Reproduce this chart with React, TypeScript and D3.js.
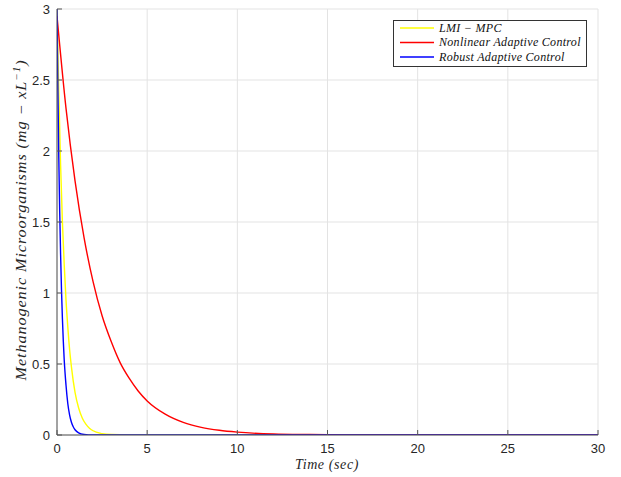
import React, { useEffect, useRef } from "react";
import * as d3 from "d3";

// values
const lmiTime = [0, 0.1, 0.2, 0.3, 0.4, 0.5, 0.6, 0.7, 0.8, 1.0, 1.2, 1.4, 1.6, 1.8, 2.0, 2.5, 3, 4, 30];
const lmiValue = [3.0, 2.4, 1.9, 1.5, 1.2, 0.95, 0.76, 0.6, 0.48, 0.3, 0.19, 0.12, 0.076, 0.048, 0.03, 0.01, 0.003, 0, 0];

const nacTime = [0, 0.5, 1, 1.5, 2, 2.5, 3, 3.5, 4, 4.5, 5, 6, 7, 8, 9, 10, 12, 14, 16, 20, 30];
const nacValue = [2.95, 2.3, 1.79, 1.39, 1.08, 0.84, 0.66, 0.51, 0.4, 0.31, 0.24, 0.147, 0.089, 0.054, 0.033, 0.02, 0.007, 0.003, 0.001, 0, 0];

const racTime = [0, 0.05, 0.1, 0.15, 0.2, 0.25, 0.3, 0.35, 0.4, 0.5, 0.6, 0.7, 0.8, 0.9, 1.0, 1.2, 1.5, 2, 30];
const racValue = [3.0, 2.42, 1.95, 1.57, 1.27, 1.02, 0.82, 0.66, 0.53, 0.35, 0.22, 0.14, 0.09, 0.058, 0.037, 0.015, 0.004, 0, 0];

const xTicks = [0, 5, 10, 15, 20, 25, 30];
const yTicks = [0, 0.5, 1, 1.5, 2, 2.5, 3];

const series = [
  { name: "LMI \u2212 MPC", color: "#ffff00", t: lmiTime, v: lmiValue },
  { name: "Nonlinear Adaptive Control", color: "#ff0000", t: nacTime, v: nacValue },
  { name: "Robust Adaptive Control", color: "#0000ff", t: racTime, v: racValue },
];

const serif = "'Liberation Serif', 'Times New Roman', serif";
const sans = "'Liberation Sans', Arial, sans-serif";

const App = () => {
  const svgRef = useRef<SVGSVGElement>(null);

  useEffect(() => {
    const svg = d3.select(svgRef.current);
    svg.selectAll("*").remove();

    const left = 57, right = 598, top = 9, bottom = 435;
    const x = d3.scaleLinear().domain([0, 30]).range([left, right]);
    const y = d3.scaleLinear().domain([0, 3]).range([bottom, top]);

    svg.append("rect").attr("width", 621).attr("height", 477).attr("fill", "#fff");

    // grid
    const grid = svg.append("g").attr("stroke", "#e3e3e3").attr("stroke-width", 1);
    xTicks.forEach((t) => {
      grid.append("line").attr("x1", x(t)).attr("x2", x(t)).attr("y1", top).attr("y2", bottom);
    });
    yTicks.forEach((t) => {
      grid.append("line").attr("x1", left).attr("x2", right).attr("y1", y(t)).attr("y2", y(t));
    });

    // curves
    const clip = svg.append("clipPath").attr("id", "plotclip");
    clip.append("rect").attr("x", left).attr("y", top - 2).attr("width", right - left).attr("height", bottom - top + 2);

    const plot = svg.append("g").attr("clip-path", "url(#plotclip)");
    series.forEach((s) => {
      const pts: [number, number][] = s.t.map((t, i) => [t, s.v[i]]);
      const line = d3
        .line<[number, number]>()
        .x((d) => x(d[0]))
        .y((d) => y(d[1]))
        .curve(d3.curveMonotoneX);
      plot
        .append("path")
        .attr("d", line(pts))
        .attr("fill", "none")
        .attr("stroke", s.color)
        .attr("stroke-width", 1.4);
    });

    // axes
    const axisColor = "#555";
    svg.append("line").attr("x1", left).attr("x2", left).attr("y1", top).attr("y2", bottom).attr("stroke", axisColor);
    svg.append("line").attr("x1", left).attr("x2", right).attr("y1", bottom).attr("y2", bottom).attr("stroke", axisColor);

    xTicks.forEach((t) => {
      svg.append("line").attr("x1", x(t)).attr("x2", x(t)).attr("y1", bottom).attr("y2", bottom - 5).attr("stroke", axisColor);
      svg
        .append("text")
        .attr("x", x(t))
        .attr("y", bottom + 18)
        .attr("text-anchor", "middle")
        .style("font-family", sans)
        .style("font-size", "13px")
        .style("fill", "#262626")
        .text(String(t));
    });
    yTicks.forEach((t) => {
      svg.append("line").attr("x1", left).attr("x2", left + 5).attr("y1", y(t)).attr("y2", y(t)).attr("stroke", axisColor);
      svg
        .append("text")
        .attr("x", left - 7)
        .attr("y", y(t) + 4.5)
        .attr("text-anchor", "end")
        .style("font-family", sans)
        .style("font-size", "13px")
        .style("fill", "#262626")
        .text(String(t));
    });

    // axis labels
    svg
      .append("text")
      .attr("x", 327)
      .attr("y", 469)
      .attr("text-anchor", "middle")
      .style("font-family", serif)
      .style("font-style", "italic")
      .style("font-size", "14px")
      .style("letter-spacing", "0.6px")
      .style("fill", "#262626")
      .text("Time (sec)");

    const yl = svg
      .append("text")
      .attr("transform", `translate(26, 220) rotate(-90) scale(1.12, 1)`)
      .attr("text-anchor", "middle")
      .style("font-family", serif)
      .style("font-style", "italic")
      .style("font-size", "14.5px")
      .style("letter-spacing", "0.8px")
      .style("fill", "#262626");
    yl.append("tspan").text("Methanogenic Microorganisms (mg \u2212 xL");
    yl.append("tspan").attr("dy", -6).style("font-size", "10px").text("\u22121");
    yl.append("tspan").attr("dy", 6).text(")");

    // legend
    const lg = svg.append("g");
    lg.append("rect")
      .attr("x", 393.5)
      .attr("y", 20.5)
      .attr("width", 193)
      .attr("height", 46)
      .attr("fill", "#fff")
      .attr("stroke", "#333")
      .attr("stroke-width", 1);
    series.forEach((s, i) => {
      const ly = 28 + i * 14.5;
      lg.append("line")
        .attr("x1", 400)
        .attr("x2", 434)
        .attr("y1", ly)
        .attr("y2", ly)
        .attr("stroke", s.color)
        .attr("stroke-width", 1.3);
      lg.append("text")
        .attr("x", 439)
        .attr("y", ly + 3.5)
        .style("font-family", serif)
        .style("font-style", "italic")
        .style("font-size", "12px")
        .style("letter-spacing", "0.3px")
        .style("fill", "#111")
        .text(s.name);
    });
  }, []);

  return (
    <svg
      ref={svgRef}
      width={621}
      height={477}
      style={{ position: "absolute", left: 0, top: 0 }}
    ></svg>
  );
};

export default App;
